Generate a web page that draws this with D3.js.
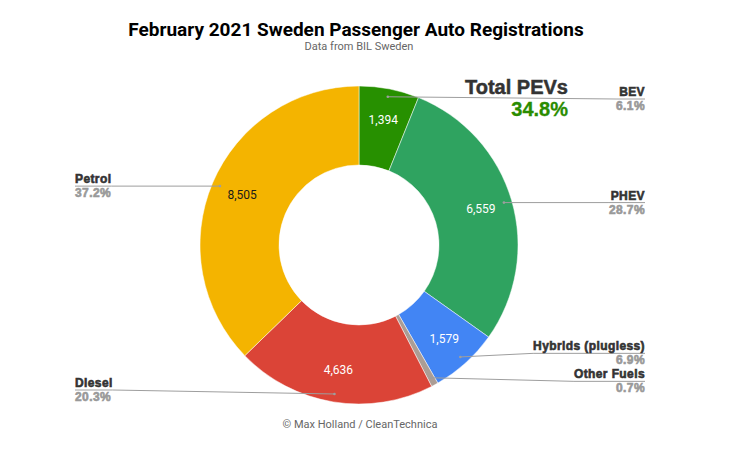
<!DOCTYPE html>
<html>
<head>
<meta charset="utf-8">
<script src="https://cdn.jsdelivr.net/npm/d3@7"></script>
<style>
  body { margin: 0; background: #fff; }
  svg { display: block; }
</style>
</head>
<body>
<svg id="chart" width="750" height="449"></svg>
<script>
// fuel categories, clockwise from 12 o'clock
const categories = ["BEV", "PHEV", "Hybrids (plugless)", "Other Fuels", "Diesel", "Petrol"];
const registrations = [1394, 6559, 1579, 160, 4636, 8505];
const sliceColours = ["#279000", "#2fa360", "#4285f4", "#ab9d95", "#db4437", "#f4b400"];
const pevCategories = ["BEV", "PHEV"];

const width = 750, height = 449;
const cx = 359, cy = 245, outerR = 159, innerR = 80;

const svg = d3.select("#chart");
const total = d3.sum(registrations);
const fmtPct = v => (Math.floor(v * 1000 + 0.5) / 10).toFixed(1) + "%";

const data = categories.map((name, i) => ({ name, value: registrations[i], colour: sliceColours[i] }));

const pie = d3.pie().sort(null).value(d => d.value);
const arcs = pie(data);
const arc = d3.arc().innerRadius(innerR).outerRadius(outerR);

const g = svg.append("g").attr("transform", `translate(${cx},${cy})`);

g.selectAll("path")
  .data(arcs)
  .enter()
  .append("path")
  .attr("d", arc)
  .attr("fill", d => d.data.colour)
  .attr("stroke", "#fff")
  .attr("stroke-width", 0.5);

// value labels inside the ring
const valueArc = d3.arc().innerRadius(127).outerRadius(127);
g.selectAll("text.value")
  .data(arcs.filter(d => d.value > 500))
  .enter()
  .append("text")
  .attr("class", "value")
  .attr("x", d => valueArc.centroid(d)[0])
  .attr("y", d => valueArc.centroid(d)[1])
  .attr("dy", "0.3em")
  .attr("text-anchor", "middle")
  .attr("font-family", "Roboto, sans-serif")
  .attr("font-size", 12)
  .attr("fill", d => d.data.name === "Petrol" ? "#1a1a1a" : "#fff")
  .text(d => d3.format(",")(d.value));

// leader labels
const dotR = 151;
const labels = arcs.map(d => {
  const a = (d.startAngle + d.endAngle) / 2;
  return {
    d,
    right: a < Math.PI,
    dx: cx + Math.sin(a) * dotR,
    dy: cy - Math.cos(a) * dotR
  };
});

// spread labels that collide, then keep them inside the plot band
function place(list) {
  list.sort((a, b) => a.dy - b.dy);
  list.forEach(l => l.y = l.dy);
  for (let iter = 0; iter < 20; iter++) {
    for (let i = 1; i < list.length; i++) {
      const gap = list[i].y - list[i - 1].y;
      if (gap < 28) {
        const shift = (28 - gap) / 2;
        list[i - 1].y -= shift;
        list[i].y += shift;
      }
    }
  }
  list.forEach(l => l.y = Math.max(99, Math.min(390, l.y)));
}
place(labels.filter(l => l.right));
place(labels.filter(l => !l.right));

const labelG = svg.append("g");
labels.forEach(l => {
  const edge = l.right ? 645 : 75;
  const anchor = l.right ? "end" : "start";
  const lg = labelG.append("g");
  const nameT = lg.append("text")
    .attr("x", edge).attr("y", l.y - 3)
    .attr("text-anchor", anchor)
    .attr("font-family", "'Liberation Sans', Arial, sans-serif")
    .attr("font-weight", "bold")
    .attr("font-size", 12)
    .attr("letter-spacing", 0.4)
    .attr("fill", "#333")
    .attr("stroke", "#333").attr("stroke-width", 0.6)
    .text(l.d.data.name);
  const pctT = lg.append("text")
    .attr("x", edge).attr("y", l.y + 11)
    .attr("text-anchor", anchor)
    .attr("font-family", "'Liberation Sans', Arial, sans-serif")
    .attr("font-weight", "bold")
    .attr("font-size", 12)
    .attr("letter-spacing", 0.4)
    .attr("fill", "#999")
    .attr("stroke", "#999").attr("stroke-width", 0.6)
    .text(fmtPct(l.d.value / total));
  const w = Math.max(nameT.node().getComputedTextLength(), pctT.node().getComputedTextLength());
  const knee = l.right ? edge - w : edge + w;
  lg.insert("polyline", "text")
    .attr("points", [[l.dx, l.dy], [knee, l.y], [edge, l.y]].map(p => p.join(",")).join(" "))
    .attr("fill", "none")
    .attr("stroke", "#9e9e9e")
    .attr("stroke-width", 1);
  lg.append("circle")
    .attr("cx", l.dx).attr("cy", l.dy).attr("r", 1.3)
    .attr("fill", "#9e9e9e");
});

// titles
svg.append("text")
  .attr("x", 356).attr("y", 36)
  .attr("text-anchor", "middle")
  .attr("font-family", "Roboto, sans-serif")
  .attr("font-weight", "bold")
  .attr("font-size", 19)
  .attr("fill", "#000")
  .text("February 2021 Sweden Passenger Auto Registrations");

svg.append("text")
  .attr("x", 359).attr("y", 50)
  .attr("text-anchor", "middle")
  .attr("font-family", "Roboto, sans-serif")
  .attr("font-size", 11)
  .attr("fill", "#666")
  .text("Data from BIL Sweden");

// total PEV callout
const pevTotal = d3.sum(data.filter(d => pevCategories.includes(d.name)), d => d.value);
svg.append("text")
  .attr("x", 568).attr("y", 94)
  .attr("text-anchor", "end")
  .attr("font-family", "'Liberation Sans', Arial, sans-serif")
  .attr("font-weight", "bold")
  .attr("font-size", 20)
  .attr("fill", "#333")
  .attr("stroke", "#333").attr("stroke-width", 0.5)
  .text("Total PEVs");

svg.append("text")
  .attr("x", 568).attr("y", 116)
  .attr("text-anchor", "end")
  .attr("font-family", "'Liberation Sans', Arial, sans-serif")
  .attr("font-weight", "bold")
  .attr("font-size", 20)
  .attr("fill", "#2a8c00")
  .attr("stroke", "#2a8c00").attr("stroke-width", 0.3)
  .text(fmtPct(pevTotal / total));

svg.append("text")
  .attr("x", 360).attr("y", 428)
  .attr("text-anchor", "middle")
  .attr("font-family", "Roboto, sans-serif")
  .attr("font-size", 11)
  .attr("fill", "#666")
  .text("© Max Holland / CleanTechnica");
</script>
</body>
</html>
